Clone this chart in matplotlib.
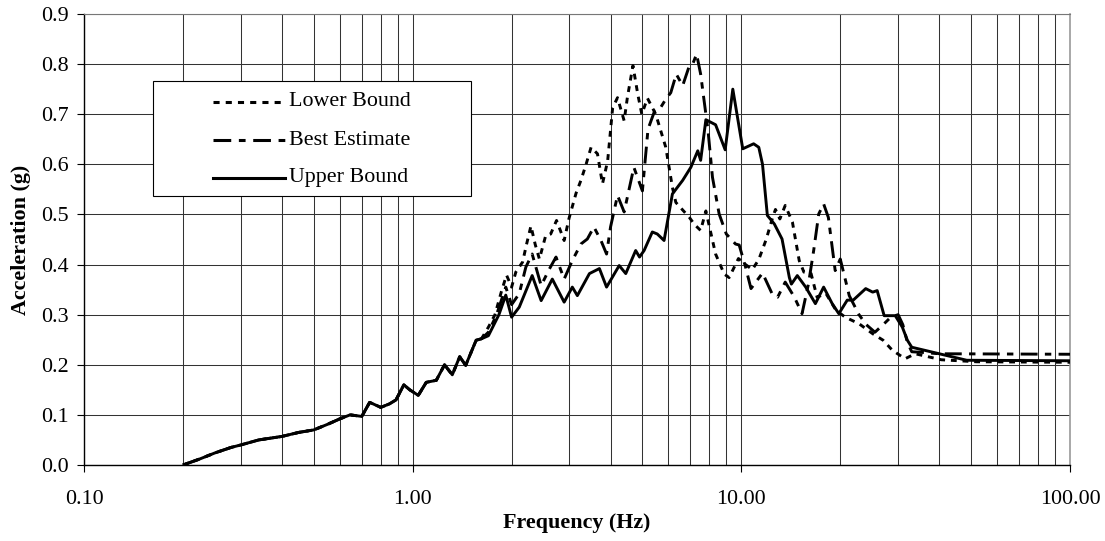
import matplotlib
matplotlib.use("Agg")
import matplotlib.pyplot as plt
from matplotlib.ticker import FixedLocator, FuncFormatter, NullFormatter
from matplotlib.patches import Rectangle
from matplotlib.lines import Line2D

plt.rcParams['font.family'] = ['Liberation Serif', 'DejaVu Serif']

# ---------------- data ----------------
common_f = [0.20, 0.225, 0.25, 0.28, 0.30, 0.34, 0.40, 0.45, 0.50, 0.55, 0.60, 0.645,
            0.70, 0.74, 0.80, 0.85, 0.89, 0.94, 0.98, 1.04, 1.10, 1.18, 1.25, 1.32,
            1.39, 1.45, 1.56, 1.62]
common_a = [0.000, 0.012, 0.024, 0.035, 0.040, 0.050, 0.057, 0.065, 0.070, 0.081, 0.092, 0.100,
            0.097, 0.125, 0.115, 0.122, 0.130, 0.160, 0.150, 0.139, 0.165, 0.169, 0.200, 0.180,
            0.216, 0.199, 0.249, 0.252]

lower_f = [1.70, 1.78, 1.86, 1.93, 2.00, 2.06, 2.16, 2.22, 2.29, 2.36, 2.43, 2.54, 2.63,
           2.74, 2.89, 2.99, 3.14, 3.25, 3.37, 3.49, 3.65, 3.78, 3.92, 4.06, 4.20, 4.40,
           4.50, 4.68, 4.84, 4.98, 5.18, 5.49, 5.89, 6.17, 6.32, 6.95, 7.20, 7.52, 7.80,
           8.35, 8.87, 9.18, 9.80, 10.3, 10.8, 11.3, 11.9, 12.4, 12.7, 13.1, 13.6, 14.3,
           15.0, 15.5, 16.3, 17.0, 18.1, 19.4, 20.7, 22.8, 25.1, 27.0, 28.8, 31.5, 33.8,
           40.6, 52.0, 100.0]
lower_a = [0.275, 0.300, 0.345, 0.379, 0.355, 0.385, 0.405, 0.440, 0.477, 0.440, 0.411, 0.458, 0.461,
           0.488, 0.448, 0.492, 0.542, 0.568, 0.600, 0.634, 0.621, 0.561, 0.607, 0.713, 0.733, 0.687,
           0.733, 0.797, 0.740, 0.700, 0.732, 0.700, 0.634, 0.554, 0.524, 0.494, 0.480, 0.468, 0.507,
           0.421, 0.381, 0.374, 0.412, 0.400, 0.390, 0.410, 0.450, 0.490, 0.510, 0.491, 0.518, 0.485,
           0.408, 0.385, 0.382, 0.335, 0.342, 0.309, 0.295, 0.282, 0.262, 0.249, 0.229, 0.212, 0.222,
           0.210, 0.206, 0.205]

best_f = [1.70, 1.80, 1.92, 2.00, 2.11, 2.21, 2.31, 2.46, 2.60, 2.73, 2.89, 3.06, 3.25,
          3.40, 3.56, 3.74, 3.89, 4.00, 4.20, 4.40, 4.71, 5.00, 5.20, 5.45, 5.64, 5.89,
          6.10, 6.34, 6.63, 6.95, 7.11, 7.31, 7.52, 7.80, 7.92, 8.17, 8.56, 9.00, 9.60,
          9.85, 10.3, 10.7, 11.6, 12.4, 12.9, 13.6, 14.5, 15.3, 16.0, 16.6, 17.2, 17.8,
          18.4, 19.3, 20.0, 21.3, 22.8, 24.0, 25.5, 27.0, 28.5, 30.0, 31.0, 32.0, 33.0,
          35.0, 40.0, 100.0]
best_a = [0.265, 0.300, 0.355, 0.320, 0.342, 0.395, 0.421, 0.358, 0.390, 0.415, 0.371, 0.408, 0.441,
          0.451, 0.475, 0.448, 0.421, 0.475, 0.538, 0.505, 0.594, 0.547, 0.670, 0.707, 0.710, 0.730,
          0.743, 0.780, 0.757, 0.797, 0.800, 0.820, 0.780, 0.700, 0.667, 0.574, 0.501, 0.461, 0.441,
          0.439, 0.395, 0.352, 0.383, 0.342, 0.335, 0.365, 0.335, 0.302, 0.361, 0.428, 0.501, 0.521,
          0.494, 0.388, 0.411, 0.338, 0.300, 0.280, 0.265, 0.280, 0.295, 0.300, 0.280, 0.245, 0.226,
          0.225, 0.222, 0.221]

upper_f = [1.70, 1.83, 1.92, 2.00, 2.11, 2.31, 2.46, 2.66, 2.89, 3.06, 3.17, 3.45, 3.70,
           3.89, 4.25, 4.45, 4.77, 4.90, 5.06, 5.36, 5.55, 5.82, 6.17, 6.63, 7.02, 7.37,
           7.52, 7.80, 8.35, 8.93, 9.42, 10.1, 10.9, 11.3, 11.6, 12.0, 12.6, 13.3, 14.0,
           14.2, 14.8, 15.7, 16.8, 17.8, 18.9, 19.8, 21.0, 21.9, 23.9, 25.1, 25.9, 27.2,
           29.4, 30.9, 32.0, 33.0, 40.6, 48.5, 100.0]
upper_a = [0.258, 0.300, 0.339, 0.295, 0.315, 0.378, 0.328, 0.371, 0.325, 0.355, 0.338, 0.382, 0.392,
           0.355, 0.398, 0.382, 0.428, 0.415, 0.428, 0.465, 0.461, 0.448, 0.541, 0.568, 0.594, 0.627,
           0.608, 0.689, 0.679, 0.629, 0.750, 0.631, 0.641, 0.634, 0.600, 0.498, 0.481, 0.451, 0.374,
           0.361, 0.378, 0.355, 0.322, 0.355, 0.322, 0.302, 0.329, 0.329, 0.352, 0.345, 0.348, 0.298,
           0.298, 0.275, 0.249, 0.235, 0.221, 0.209, 0.208]

x_major = [0.1, 1.0, 10.0, 100.0]
y_ticks = [0.0, 0.1, 0.2, 0.3, 0.4, 0.5, 0.6, 0.7, 0.8, 0.9]
labels = ["Lower Bound", "Best Estimate", "Upper Bound"]

# ---------------- figure ----------------
fig = plt.figure(figsize=(11.05, 5.41), dpi=100)
ax = fig.add_axes([84 / 1105, 76 / 541, 986 / 1105, 451 / 541])

FS = 15.8
LW = 2.1
styles = [(0, (2.0, 2.0)), (0, (5.8, 2.5, 2.2, 2.5)), '-']

series = [
    (common_f + lower_f, common_a + lower_a),
    (common_f + best_f, common_a + best_a),
    (common_f + upper_f, common_a + upper_a),
]
lines = []
for (f, a), ls, lab in zip(series, styles, labels):
    ln, = ax.plot(f, a, color='black', lw=LW, linestyle=ls, label=lab,
                  solid_capstyle='butt', dash_capstyle='butt', solid_joinstyle='round',
                  zorder=3)
    lines.append(ln)

ax.set_xscale('log')
ax.set_xlim(0.1, 100)
ax.set_ylim(0, 0.9)
ax.xaxis.set_major_locator(FixedLocator(x_major))
ax.xaxis.set_major_formatter(FuncFormatter(lambda v, p: f"{v:.2f}"))
minors = [m * d for d in [0.1, 1, 10] for m in range(2, 10)]
ax.xaxis.set_minor_locator(FixedLocator(minors))
ax.xaxis.set_minor_formatter(NullFormatter())
ax.yaxis.set_major_locator(FixedLocator(y_ticks))
ax.yaxis.set_major_formatter(FuncFormatter(lambda v, p: f"{v:.1f}"))

ax.tick_params(axis='both', which='major', direction='out', length=5, width=0.8,
               labelsize=FS, color='black')
ax.tick_params(axis='x', which='major', pad=13)
ax.tick_params(axis='y', which='major', pad=6)
ax.tick_params(axis='x', which='minor', length=0)

ax.grid(True, which='both', axis='x', color='#333333', lw=0.75)
ax.grid(True, which='major', axis='y', color='#333333', lw=0.75)
ax.set_axisbelow(True)

for s in ['left', 'bottom']:
    ax.spines[s].set_color('black')
    ax.spines[s].set_linewidth(1.0)
ax.spines['top'].set_color('#777777')
ax.spines['top'].set_linewidth(0.8)
ax.spines['right'].set_color('#999999')
ax.spines['right'].set_linewidth(1.2)

ax.set_xlabel('Frequency (Hz)', fontsize=FS, fontweight='bold', labelpad=3)
ax.set_ylabel('Acceleration (g)', fontsize=FS, fontweight='bold', labelpad=7)

# ---------------- legend (manual box) ----------------
bx0, bx1 = 0.0697, 0.392
by0, by1 = 0.5965, 0.8514
ax.add_patch(Rectangle((bx0, by0), bx1 - bx0, by1 - by0, transform=ax.transAxes,
                       facecolor='white', edgecolor='black', lw=0.8, zorder=5))
row_y = [0.8055, 0.7206, 0.6364]
for ls, ly, lab in zip(styles, row_y, labels):
    h = Line2D([0.1308, 0.2039], [ly, ly], transform=ax.transAxes, color='black',
               lw=2.2, linestyle=ls, dash_capstyle='butt', zorder=6)
    ax.add_artist(h)
    ax.text(0.2082, ly, lab, transform=ax.transAxes, fontsize=FS, va='center',
            ha='left', zorder=6)

fig.savefig('out.png', dpi=100)
